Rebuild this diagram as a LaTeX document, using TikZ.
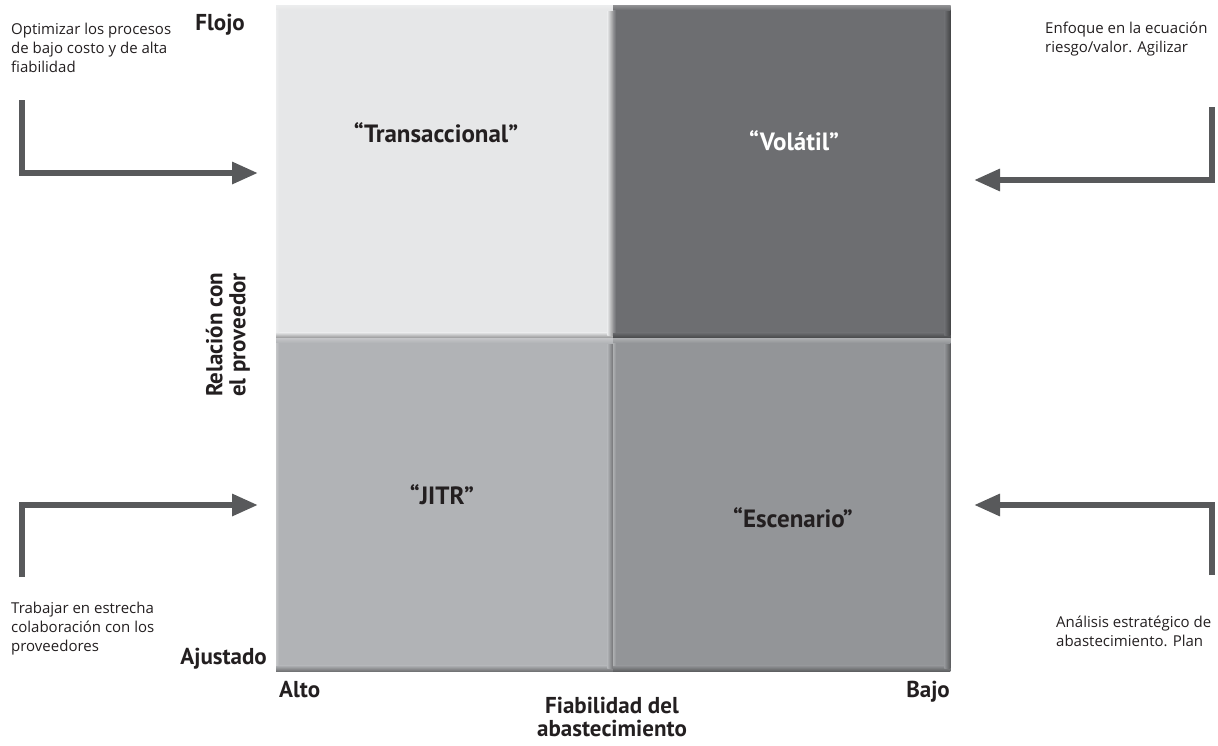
\documentclass[tikz,border=0pt]{standalone}
\usepackage{fontspec}
\setmainfont{Open Sans}
\newfontfamily\headfont{PT Sans}
\usetikzlibrary{arrows.meta}

\definecolor{qTL}{HTML}{E6E7E8}
\definecolor{qTR}{HTML}{6D6E71}
\definecolor{qBL}{HTML}{B1B3B6}
\definecolor{qBR}{HTML}{939598}
\definecolor{arrowgray}{HTML}{58595B}
\definecolor{ink}{HTML}{231F20}

\tikzset{
  quad/.style={rectangle, inner sep=0pt, anchor=north west,
    minimum width=337pt, minimum height=333pt},
  quadlabel/.style={font=\headfont\bfseries\fontsize{25}{28}\selectfont, text=ink, inner sep=0pt},
  axislabel/.style={font=\headfont\bfseries\fontsize{23}{23}\selectfont, text=ink, inner sep=0pt},
  note/.style={font=\fontsize{15}{19}\selectfont, text=ink, align=left, inner sep=0pt},
  bigarrow/.style={draw=arrowgray, line width=6pt, line cap=butt, line join=miter,
    -{Triangle[length=26pt, width=21pt]}},
}

% darker bottom and right edges, lighter top edge for a raised look
\newcommand{\bevelbox}[2]{%
  \shade[top color=#2, bottom color=#2!62!black]
    ([yshift=6pt]#1.south west) rectangle (#1.south east);
  \shade[left color=#2, right color=#2!62!black]
    ([xshift=-6pt]#1.north east) rectangle ([yshift=3pt]#1.south east);
  \shade[top color=#2!75!white, bottom color=#2]
    (#1.north west) rectangle ([yshift=-5pt]#1.north east);
  \shade[left color=#2!75!white, right color=#2]
    ([yshift=-5pt]#1.north west) rectangle ([xshift=3pt,yshift=6pt]#1.south west);
}

\begin{document}
\begin{tikzpicture}[x=1pt, y=-1pt]
\useasboundingbox (0,0) rectangle (1218,745);

% the four quadrants
\node[quad, fill=qTL] (tl) at (276,5) {};
\node[quad, fill=qTR] (tr) at (613,5) {};
\node[quad, fill=qBL] (bl) at (276,338) {};
\node[quad, fill=qBR] (br) at (613,338) {};
\bevelbox{tl}{qTL}
\bevelbox{tr}{qTR}
\bevelbox{bl}{qBL}
\bevelbox{br}{qBR}

% quadrant names
\node[quadlabel] (lTL) at (436,133) {“Transaccional”};
\node[quadlabel, text=white] (lTR) at (794,141) {“Volátil”};
\node[quadlabel] (lBL) at (442,495) {“JITR”};
\node[quadlabel] (lBR) at (793,518) {“Escenario”};

% axis labels
\node[axislabel, anchor=base east] (flojo) at (245,30) {Flojo};
\node[axislabel, anchor=base east] (ajustado) at (267,664) {Ajustado};
\node[axislabel, anchor=base west] (alto) at (279,697) {Alto};
\node[axislabel, anchor=base east] (bajo) at (950,697) {Bajo};
\node[axislabel, align=center, anchor=base] (fiab) at (612,736) {Fiabilidad del\\abastecimiento};
\node[axislabel, align=center, rotate=90] (rel) at (228,335) {Relación con\\el proveedor};

% strategy notes (anchored at the baseline of their last line)
\node[note, anchor=base west] (nTL) at (11,72) {Optimizar los procesos\\de bajo costo y de alta\\fiabilidad};
\node[note, anchor=base west] (nTR) at (1045,52) {Enfoque en la ecuación\\riesgo/valor. Agilizar};
\node[note, anchor=base west] (nBL) at (11,651) {Trabajar en estrecha\\colaboración con los\\proveedores};
\node[note, anchor=base west] (nBR) at (1056,646) {Análisis estratégico de\\abastecimiento. Plan};

% elbow arrows pointing at the quadrants
\coordinate (aTLs) at (22,100);
\coordinate (aTLe) at (258,173);
\coordinate (aTRs) at (1212,107);
\coordinate (aTRe) at (974,180);
\coordinate (aBLs) at (22,577);
\coordinate (aBLe) at (258,505);
\coordinate (aBRs) at (1212,575);
\coordinate (aBRe) at (974,505);
\draw[bigarrow] (aTLs) |- (aTLe);
\draw[bigarrow] (aTRs) |- (aTRe);
\draw[bigarrow] (aBLs) |- (aBLe);
\draw[bigarrow] (aBRs) |- (aBRe);
\end{tikzpicture}
\end{document}
